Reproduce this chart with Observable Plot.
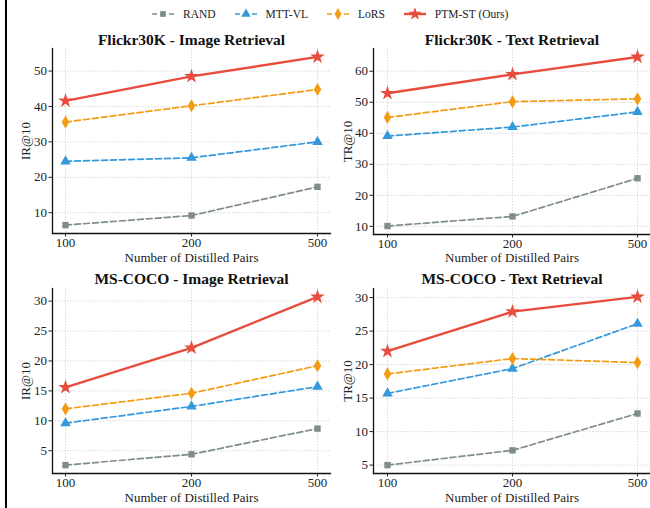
<!DOCTYPE html>
<html><head><meta charset="utf-8">
<script src="https://cdn.jsdelivr.net/npm/d3@7"></script>
<script src="https://cdn.jsdelivr.net/npm/@observablehq/plot@0.6"></script>
<style>
body{margin:0;background:#fff;width:650px;height:508px;position:relative;overflow:hidden;font-family:"Liberation Serif",serif;}
.panel{position:absolute;}
#border{position:absolute;left:5px;top:0;width:2px;height:508px;background:#000;}
#legend{position:absolute;left:152px;top:6px;height:15px;display:flex;align-items:center;gap:19px;font-size:11.5px;color:#222;}
.item{display:flex;align-items:center;gap:9px;}
.item svg{display:block;}
</style></head><body>
<div id="border"></div>
<div id="legend"></div>
<div id="tl" class="panel" style="left:0;top:20px"></div>
<div id="tr" class="panel" style="left:330px;top:20px"></div>
<div id="bl" class="panel" style="left:0;top:260px"></div>
<div id="br" class="panel" style="left:330px;top:260px"></div>
<script>
const pairs = ["100", "200", "500"];
const methods = ["RAND", "MTT-VL", "LoRS", "PTM-ST (Ours)"];
const colors = ["#7f8c8d", "#3498db", "#f39c12", "#e74c3c"];
const symbols = ["square", "triangle", "diamond", "star"];

// rows follow methods order, columns follow pairs order
const flickrIR = [[6.5, 9.2, 17.3], [24.5, 25.5, 30.0], [35.6, 40.2, 44.8], [41.6, 48.5, 54.0]];
const flickrTR = [[10.1, 13.2, 25.5], [39.1, 42.0, 46.9], [45.1, 50.2, 51.1], [52.9, 59.0, 64.6]];
const cocoIR = [[2.6, 4.4, 8.7], [9.6, 12.4, 15.7], [12.0, 14.6, 19.2], [15.6, 22.2, 30.7]];
const cocoTR = [[5.0, 7.2, 12.7], [15.7, 19.4, 26.1], [18.6, 20.9, 20.3], [22.0, 27.9, 30.1]];

const flickrIRTicks = [10, 20, 30, 40, 50];
const flickrTRTicks = [10, 20, 30, 40, 50, 60];
const cocoIRTicks = [5, 10, 15, 20, 25, 30];
const cocoTRTicks = [5, 10, 15, 20, 25, 30];

const markerR = [3.6, 3.9, 4.0, 4.6];
const ink = "#222";
const FONT = "Liberation Serif";

function panel(id, values, title, ylabel, yticks, cfg) {
  const all = values.flat();
  const lo = d3.min(all), hi = d3.max(all), pad = (hi - lo) * 0.05;
  const gridStyle = {stroke: "#aaa", strokeOpacity: 0.55, strokeDasharray: "1.5,1.5", strokeWidth: 0.8};
  const marks = [
    Plot.gridX(pairs, gridStyle),
    Plot.gridY(yticks, gridStyle),
    Plot.axisX({tickSize: 3.5, tickPadding: 0.5, label: null, fill: ink, stroke: ink}),
    Plot.axisY(yticks, {tickSize: 3.5, tickPadding: 2, label: null, fill: ink, stroke: ink}),
    Plot.frame({anchor: "left", stroke: "#111", strokeWidth: 1.3}),
    Plot.frame({anchor: "bottom", stroke: "#111", strokeWidth: 1.3}),
    Plot.text([title], {frameAnchor: "top", lineAnchor: "middle", dy: cfg.titleDy, fontWeight: "bold", fontSize: 15.5, fill: "#111"}),
    Plot.text([ylabel], {frameAnchor: "left", textAnchor: "middle", lineAnchor: "middle", dx: cfg.ylabDx, rotate: -90, fontSize: 13, fill: ink}),
    Plot.text(["Number of Distilled Pairs"], {frameAnchor: "bottom", lineAnchor: "middle", dy: cfg.xlabDy, fontSize: 13, fill: ink})
  ];
  methods.forEach((m, i) => {
    const d = pairs.map((p, j) => ({pair: p, value: values[i][j]}));
    marks.push(Plot.line(d, {
      x: "pair", y: "value", stroke: colors[i],
      strokeWidth: i === 3 ? 2.4 : 1.7,
      strokeDasharray: i === 3 ? null : "6,3"
    }));
    marks.push(Plot.dot(d, {x: "pair", y: "value", symbol: symbols[i], fill: colors[i], r: markerR[i], stroke: "none"}));
  });
  const chart = Plot.plot({
    width: cfg.width, height: cfg.height,
    marginLeft: cfg.marginLeft, marginRight: 0, marginTop: 28, marginBottom: cfg.marginBottom,
    style: {fontFamily: FONT, fontSize: "13px", background: "transparent", overflow: "visible", color: ink, maxWidth: "none"},
    x: {type: "point", domain: pairs, padding: 0.1},
    y: {domain: [lo - pad, hi + pad]},
    marks
  });
  document.getElementById(id).appendChild(chart);
}

panel("tl", flickrIR, "Flickr30K - Image Retrieval", "IR@10", flickrIRTicks, {width: 330, height: 240, marginLeft: 52, marginBottom: 27, xlabDy: 24, titleDy: -8, ylabDx: -27});
panel("tr", flickrTR, "Flickr30K - Text Retrieval", "TR@10", flickrTRTicks, {width: 320, height: 240, marginLeft: 43, marginBottom: 26, xlabDy: 23, titleDy: -8, ylabDx: -26});
panel("bl", cocoIR, "MS-COCO - Image Retrieval", "IR@10", cocoIRTicks, {width: 330, height: 248, marginLeft: 52, marginBottom: 35, xlabDy: 24.5, titleDy: -9, ylabDx: -27});
panel("br", cocoTR, "MS-COCO - Text Retrieval", "TR@10", cocoTRTicks, {width: 320, height: 248, marginLeft: 43, marginBottom: 35, xlabDy: 24.5, titleDy: -9, ylabDx: -26});

// legend
const legend = d3.select("#legend");
methods.forEach((m, i) => {
  const item = legend.append("div").attr("class", "item");
  const s = item.append("svg").attr("width", 22).attr("height", 12);
  s.append("line").attr("x1", 0).attr("x2", 22).attr("y1", 6).attr("y2", 6)
    .attr("stroke", colors[i]).attr("stroke-width", i === 3 ? 2.4 : 1.7)
    .attr("stroke-dasharray", i === 3 ? null : "5,3.5");
  const sym = {square: d3.symbolSquare, triangle: d3.symbolTriangle, diamond: d3.symbolDiamond, star: d3.symbolStar}[symbols[i]];
  s.append("path").attr("transform", "translate(11,6)")
    .attr("d", d3.symbol(sym, Math.PI * markerR[i] * markerR[i] * 0.8)())
    .attr("fill", colors[i]);
  item.append("span").text(m);
});
</script>
</body></html>
